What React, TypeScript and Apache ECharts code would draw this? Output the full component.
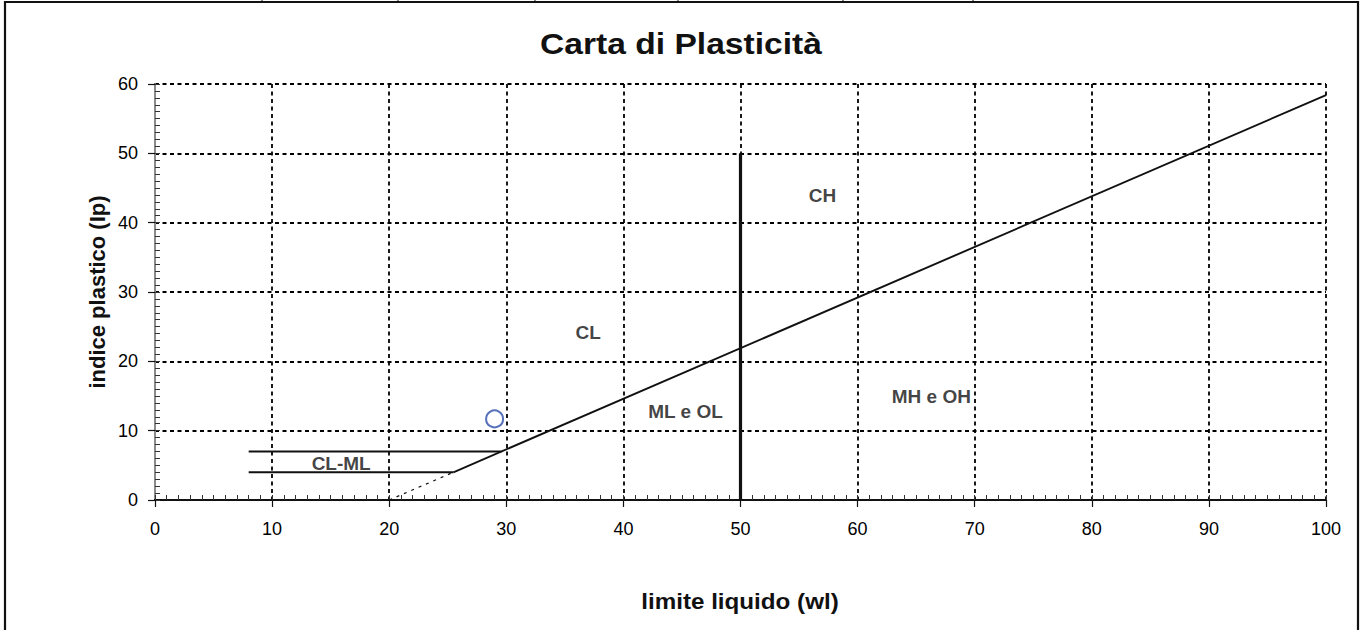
import React, { useEffect, useRef } from 'react';
import * as echarts from 'echarts';

const aLineSolid = [[25.48, 4], [100, 58.4]];
const aLineDashed = [[20, 0], [25.48, 4]];
const clmlUpper = [[8, 7], [29.59, 7]];
const clmlLower = [[8, 4], [25.48, 4]];
const wl50Line = [[50, 0], [50, 50]];
const samplePoint = [[29, 11.7]];
const zoneNames = ['CL', 'CH', 'ML e OL', 'MH e OH', 'CL-ML'];
const zoneWl = [37, 57, 45.3, 66.3, 15.9];
const zoneIp = [24.2, 43.9, 12.8, 14.9, 5.3];
const topCellTicks = [262, 398, 535, 678, 843, 973];

const FONT = '"Liberation Sans", Arial, sans-serif';

export default function App() {
  const ref = useRef<HTMLDivElement>(null);
  useEffect(() => {
    document.body.style.margin = '0';
    const chart = echarts.init(ref.current!, null, { renderer: 'svg' });
    const dashGrid = { show: true, lineStyle: { color: '#000', type: [4, 3.5], width: 1.8 } };
    const lineSeries = (data: number[][], width: number, type: any = 'solid') => ({
      type: 'line',
      data,
      symbol: 'none',
      silent: true,
      lineStyle: { color: '#111', width, type },
      z: 3,
    });
    chart.setOption({
      animation: false,
      backgroundColor: '#fff',
      grid: { left: 155, right: 36, top: 84, bottom: 130, show: false },
      xAxis: [
        {
          type: 'value', min: 0, max: 100, interval: 10, position: 'bottom',
          axisLine: { lineStyle: { color: '#111', width: 2 } },
          axisTick: { show: true, length: 7, lineStyle: { color: '#111', width: 1.2 } },
          axisLabel: { color: '#000', fontSize: 18, fontFamily: FONT, margin: 20 },
          splitLine: dashGrid,
        },
        {
          type: 'value', min: 0, max: 100, interval: 1, position: 'bottom',
          axisLine: { show: false },
          axisTick: { show: true, inside: true, length: 5, lineStyle: { color: '#333', width: 1 } },
          axisLabel: { show: false },
          splitLine: { show: false },
        },
        {
          type: 'value', min: 0, max: 100, interval: 10, position: 'top',
          axisLine: { show: true, lineStyle: { color: '#111', width: 1.8 } },
          axisTick: { show: false },
          axisLabel: { show: false },
          splitLine: { show: false },
        },
      ],
      yAxis: [
        {
          type: 'value', min: 0, max: 60, interval: 10, position: 'left',
          axisLine: { show: true, lineStyle: { color: '#111', width: 2 } },
          axisTick: { show: true, length: 7, lineStyle: { color: '#111', width: 1.2 } },
          axisLabel: { color: '#000', fontSize: 18, fontFamily: FONT, margin: 17 },
          splitLine: dashGrid,
        },
        {
          type: 'value', min: 0, max: 60, interval: 1, position: 'left',
          axisLine: { show: false },
          axisTick: { show: true, inside: true, length: 5, lineStyle: { color: '#333', width: 1 } },
          axisLabel: { show: false },
          splitLine: { show: false },
        },
        {
          type: 'value', min: 0, max: 60, interval: 10, position: 'right',
          axisLine: { show: true, lineStyle: { color: '#999', width: 1.8 } },
          axisTick: { show: false },
          axisLabel: { show: false },
          splitLine: { show: false },
        },
      ],
      series: [
        lineSeries(aLineSolid, 1.9),
        lineSeries(aLineDashed, 1.2, [3, 5]),
        lineSeries(clmlUpper, 1.9),
        lineSeries(clmlLower, 1.9),
        lineSeries(wl50Line, 3.2),
        {
          type: 'scatter',
          data: samplePoint,
          symbol: 'circle',
          symbolSize: 17,
          silent: true,
          itemStyle: { color: 'rgba(255,255,255,0)', borderColor: '#2c4ca8', borderWidth: 2 },
          z: 5,
        },
        {
          type: 'scatter',
          data: zoneNames.map((n, i) => ({ name: n, value: [zoneWl[i], zoneIp[i]] })),
          symbolSize: 1,
          itemStyle: { color: 'rgba(0,0,0,0)' },
          silent: true,
          label: {
            show: true, position: 'inside', formatter: '{b}',
            color: '#111', fontSize: 19, fontWeight: 'bold', fontFamily: FONT,
          },
          z: 6,
        },
      ],
      graphic: [
        {
          type: 'rect', shape: { x: 5, y: 2, width: 1353, height: 640 },
          style: { fill: 'none', stroke: '#111', lineWidth: 2.2 }, silent: true,
        },
        ...topCellTicks.map((x) => ({
          type: 'line', shape: { x1: x, y1: 0, x2: x, y2: 2 },
          style: { stroke: '#111', lineWidth: 1 }, silent: true,
        })),
        {
          type: 'text', x: 681, y: 44, scaleX: 1.12,
          style: {
            text: 'Carta di Plasticità', fill: '#111', font: `bold 30px ${FONT}`,
            align: 'center', verticalAlign: 'middle',
          },
        },
        {
          type: 'text', x: 740, y: 601, scaleX: 1.1,
          style: {
            text: 'limite liquido (wl)', fill: '#111', font: `bold 22px ${FONT}`,
            align: 'center', verticalAlign: 'middle',
          },
        },
        {
          type: 'text', x: 97, y: 292, rotation: Math.PI / 2,
          style: {
            text: 'indice plastico (Ip)', fill: '#111', font: `bold 22px ${FONT}`,
            align: 'center', verticalAlign: 'middle',
          },
        },
      ],
    });
    return () => chart.dispose();
  }, []);
  return <div ref={ref} style={{ width: 1362, height: 630 }} />;
}
